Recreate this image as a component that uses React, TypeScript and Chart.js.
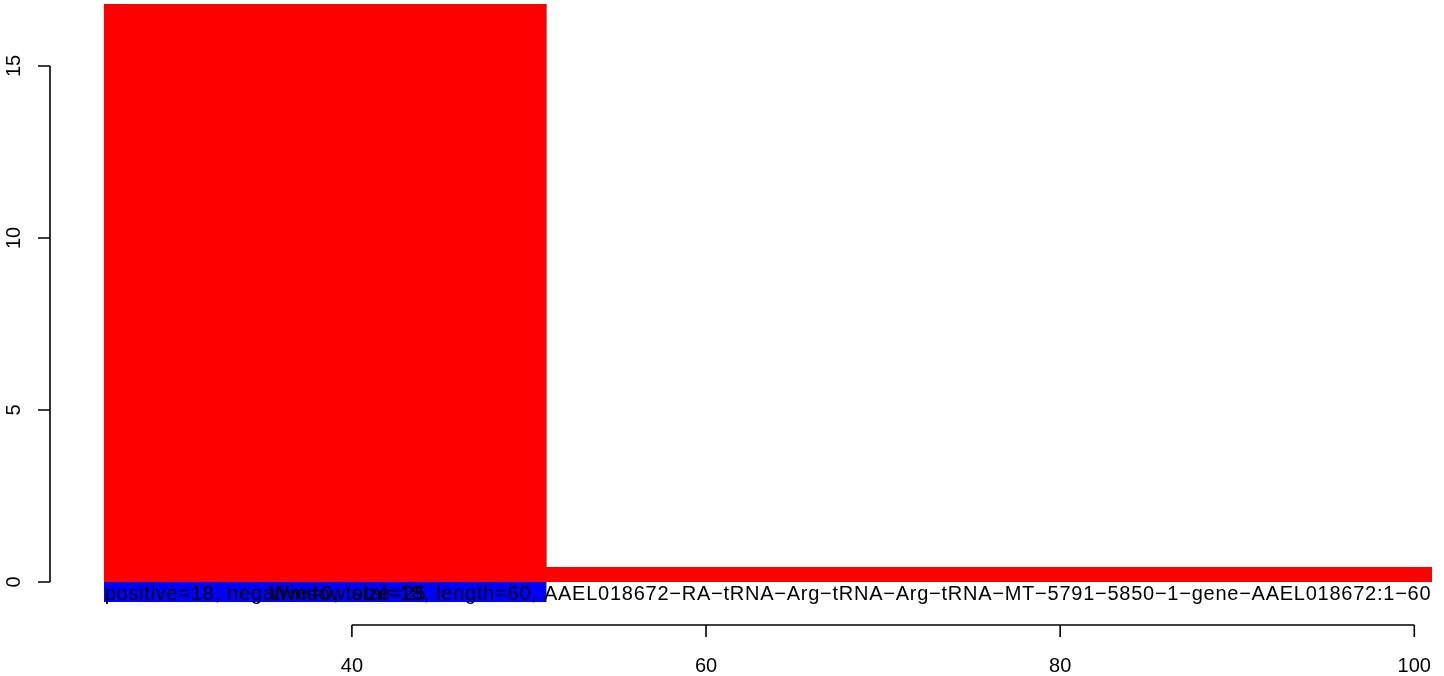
import React, { useEffect, useRef } from "react";
import { Chart, registerables } from "chart.js";

Chart.register(...registerables);

const binEdges = [26, 51, 101];
const positiveValues = [18, 0.44];
const negativeValues = [-0.58];
const xTicks = [40, 60, 80, 100];
const yTicks = [0, 5, 10, 15];
const infoLabel =
  "positive=18, negative=0, total=18, length=60, AAEL018672\u2212RA\u2212tRNA\u2212Arg\u2212tRNA\u2212Arg\u2212tRNA\u2212MT\u22125791\u22125850\u22121\u2212gene\u2212AAEL018672:1\u221260";
const windowLabel = "Window size=25";

const FONT = '20px "Liberation Sans", Arial, Helvetica, sans-serif';

const stepData = (vals: number[]) => {
  const pts = vals.map((v, i) => ({ x: binEdges[i], y: v }));
  pts.push({ x: binEdges[vals.length], y: vals[vals.length - 1] });
  return pts;
};

const axesPlugin = {
  id: "rAxes",
  afterDraw(chart: any) {
    const ctx = chart.ctx;
    const xs = chart.scales.x;
    const ys = chart.scales.y;
    ctx.save();
    ctx.fillStyle = "#000";
    ctx.strokeStyle = "#000";
    ctx.lineWidth = 1.6;
    ctx.font = FONT;

    // labels across bars
    ctx.save();
    ctx.textBaseline = "alphabetic";
    ctx.textAlign = "center";
    (ctx as any).letterSpacing = "0.75px";
    const midX = xs.getPixelForValue((binEdges[0] + binEdges[binEdges.length - 1]) / 2);
    const baseY = ys.getPixelForValue(-0.52);
    ctx.fillText(infoLabel, midX, baseY);
    ctx.fillText(windowLabel, xs.getPixelForValue(39.8), baseY);
    ctx.restore();

    // y axis
    const yAxisX = 50;
    ctx.beginPath();
    ctx.moveTo(yAxisX, ys.getPixelForValue(yTicks[0]));
    ctx.lineTo(yAxisX, ys.getPixelForValue(yTicks[yTicks.length - 1]));
    yTicks.forEach((t) => {
      const py = ys.getPixelForValue(t);
      ctx.moveTo(yAxisX - 12, py);
      ctx.lineTo(yAxisX, py);
    });
    ctx.stroke();
    yTicks.forEach((t) => {
      const py = ys.getPixelForValue(t);
      ctx.save();
      ctx.translate(19.5, py);
      ctx.rotate(-Math.PI / 2);
      ctx.textAlign = "center";
      ctx.textBaseline = "alphabetic";
      ctx.fillText(String(t), 0, 0);
      ctx.restore();
    });

    // x axis
    const xAxisY = 625;
    ctx.beginPath();
    ctx.moveTo(xs.getPixelForValue(xTicks[0]), xAxisY);
    ctx.lineTo(xs.getPixelForValue(xTicks[xTicks.length - 1]), xAxisY);
    xTicks.forEach((t) => {
      const px = xs.getPixelForValue(t);
      ctx.moveTo(px, xAxisY);
      ctx.lineTo(px, xAxisY + 12);
    });
    ctx.stroke();
    ctx.textAlign = "center";
    ctx.textBaseline = "alphabetic";
    xTicks.forEach((t) => {
      ctx.fillText(String(t), xs.getPixelForValue(t), 672);
    });
    ctx.restore();
  },
};

export default function App() {
  const ref = useRef<HTMLCanvasElement>(null);
  useEffect(() => {
    document.body.style.margin = "0";
    const chart = new Chart(ref.current as HTMLCanvasElement, {
      type: "line",
      data: {
        datasets: [
          {
            data: stepData(positiveValues),
            stepped: "before",
            fill: "origin",
            backgroundColor: "#ff0000",
            borderWidth: 0,
            pointRadius: 0,
          },
          {
            data: stepData(negativeValues),
            stepped: "before",
            fill: "origin",
            backgroundColor: "#0000ff",
            borderWidth: 0,
            pointRadius: 0,
          },
        ] as any,
      },
      options: {
        animation: false,
        responsive: false,
        devicePixelRatio: 1,
        layout: { padding: { left: 104, right: 12, top: 4, bottom: 74 } },
        plugins: { legend: { display: false }, tooltip: { enabled: false } },
        scales: {
          x: { type: "linear", min: 26, max: 101, display: false },
          y: { type: "linear", min: -0.58, max: 16.8, display: false },
        },
      },
      plugins: [axesPlugin],
    });
    return () => chart.destroy();
  }, []);
  return (
    <div style={{ width: 1444, height: 676 }}>
      <canvas ref={ref} width={1444} height={676} />
    </div>
  );
}
